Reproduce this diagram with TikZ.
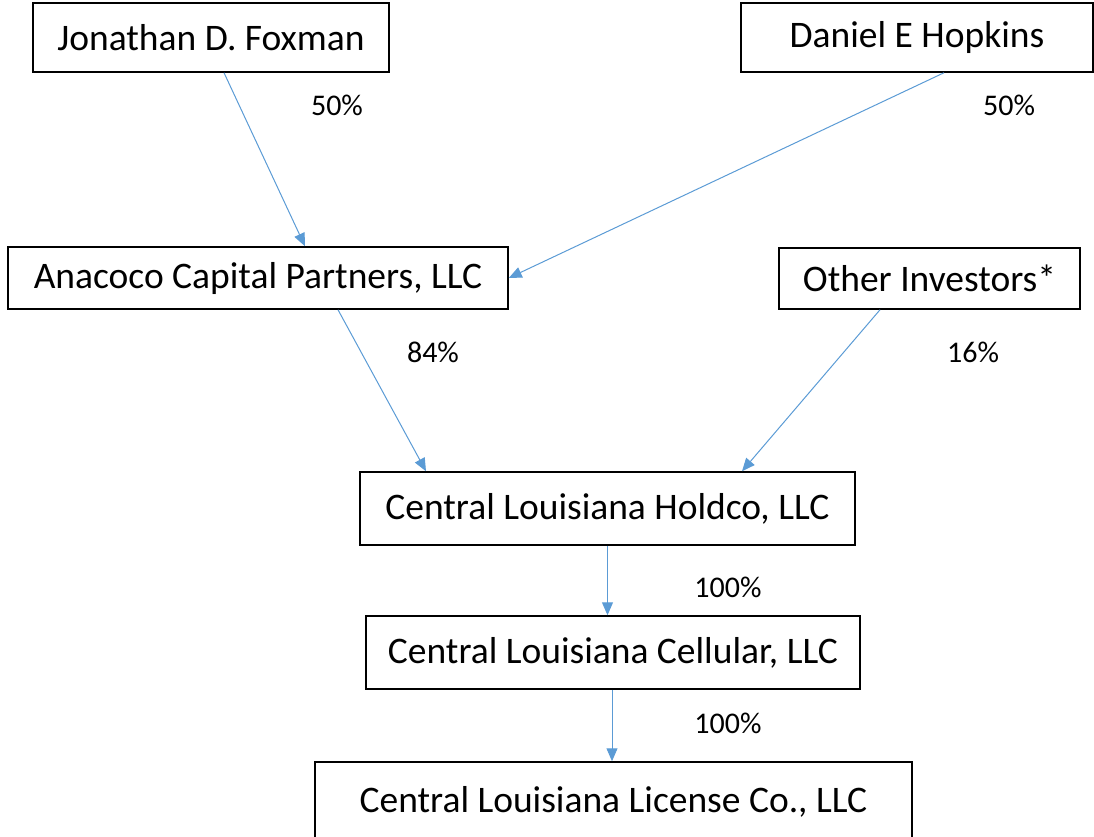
\documentclass[tikz,border=0pt]{standalone}
\usepackage{fontspec}
\setmainfont{Carlito}
\usepackage{xcolor}
\usepackage{tikz}
\usetikzlibrary{arrows.meta}
\usetikzlibrary{positioning}
\definecolor{linkblue}{RGB}{91,155,213}

\begin{document}
\begin{tikzpicture}[x=1pt, y=-1pt,
		entity/.style={draw, line width=1.5pt, inner sep=0pt, font=\fontsize{37.5}{42}\selectfont},
		share/.style={font=\fontsize{30}{34}\selectfont},
		link/.style={draw=linkblue, line width=1pt, -{Triangle[length=13pt, width=11pt]}, color=linkblue}]
		\useasboundingbox (0,0) rectangle (1094,836);
		
		\node[entity, minimum width=356pt, minimum height=69pt] (foxman)  at (211,37.5) {Jonathan D. Foxman};
		\node[entity, minimum width=352pt, minimum height=69pt] (hopkins) at (917,37.5) {Daniel E Hopkins};
		
		\node[entity, minimum width=500pt, minimum height=62pt] (anacoco) at (258,278) {Anacoco Capital Partners, LLC};
		\node[entity, minimum width=301pt, minimum height=61pt] (others)  at (929.5,278.5) {Other Investors*};
		
		%---------
		\node[entity, minimum width=495pt, minimum height=73pt] (holdco)   at (607.5,508.5) {Central Louisiana Holdco, LLC};
		\node[entity, minimum width=494pt, minimum height=73pt] (cellular) at (613,652.5) {Central Louisiana Cellular, LLC};
		\node[entity, minimum width=597pt, minimum height=80pt] (license)  at (613.5,802) {Central Louisiana License Co., LLC};
		
		\node[share] (pct fox)  at (337,105)  {50\%};
		\node[share] (pct hop)  at (1009,105) {50\%};
		\node[share] (pct ana)  at (433,352)  {84\%};
		\node[share] (pct oth)  at (973,352)  {16\%};
		\node[share] (pct hold) at (728,587)  {100\%};
		\node[share] (pct cell) at (728,723)  {100\%};
		
		\draw[link] ([xshift=13pt]foxman.south)--([xshift=47pt]anacoco.north);
		\draw[link] ([xshift=27pt]hopkins.south)--(anacoco.east);
		\draw[link] ([xshift=80pt]anacoco.south)--([xshift=-181.5pt]holdco.north);
		\draw[link] ([xshift=-49.5pt]others.south)--([xshift=134.5pt]holdco.north);
		\draw[link] (holdco.south)--(holdco.south|-cellular.north);
		\draw[link] ([xshift=-1pt]cellular.south)--([xshift=-1pt]cellular.south|-license.north);
	\end{tikzpicture}
\end{document}
